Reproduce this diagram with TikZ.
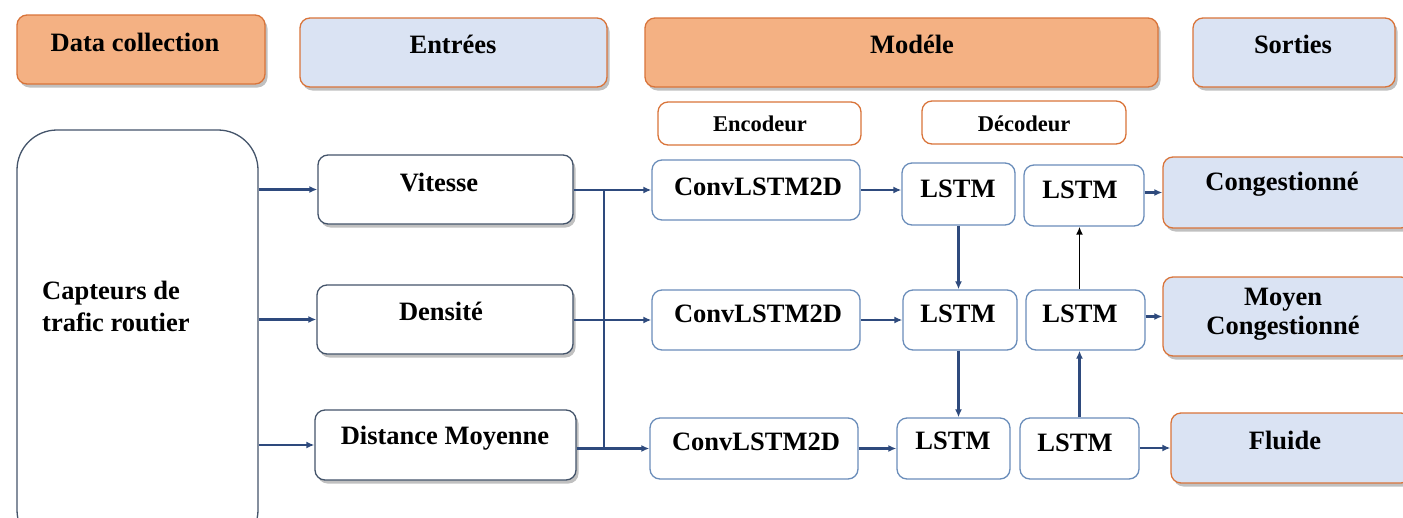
\documentclass[tikz,border=0pt]{standalone}
\usepackage{fontspec}
\setmainfont{Liberation Serif}
\usetikzlibrary{arrows.meta,shadows}
\definecolor{orfill}{HTML}{F4B183}
\definecolor{orline}{HTML}{D9743A}
\definecolor{blfill}{HTML}{DAE3F3}
\definecolor{stline}{HTML}{6A8DBA}
\definecolor{inline}{HTML}{44546A}
\definecolor{navy}{HTML}{2E4A7D}
\tikzset{
  base/.style={rectangle, rounded corners=10pt, line width=1.3pt, inner sep=0pt},
  shad/.style={drop shadow={shadow xshift=2.5pt, shadow yshift=-3.5pt, opacity=0.35, fill=black!70}},
  heador/.style={base, shad, draw=orline, fill=orfill},
  headbl/.style={base, shad, draw=orline, fill=blfill},
  subhead/.style={base, draw=orline, fill=white},
  inbox/.style={base, shad, draw=inline, fill=white},
  smallbox/.style={base, draw=stline, fill=white},
  outbox/.style={base, shad, draw=orline, fill=blfill},
  txt/.style={font=\fontsize{26.5}{29}\selectfont\bfseries, inner sep=0pt, align=center},
  stxt/.style={font=\fontsize{22.5}{24}\selectfont\bfseries, inner sep=0pt},
  arr/.style={draw=navy, line width=2.3pt, -{Latex[length=8pt,width=7pt]}},
  arrk/.style={draw=black, line width=1.8pt, -{Latex[length=8pt,width=7pt]}},
  bus/.style={draw=navy, line width=2.3pt}
}
\begin{document}
\begin{tikzpicture}[x=1pt,y=-1pt]
\useasboundingbox (0,0) rectangle (1403,517);
\clip (0,0) rectangle (1403,517);
\fill[white] (0,0) rectangle (1403,517);
% headers
\node[heador, minimum width=248pt, minimum height=69pt] (dc) at (141,49.5) {};
\node[txt] (dct) at (135,42) {Data collection};
\node[headbl, minimum width=307pt, minimum height=69pt] (en) at (453.5,52.5) {};
\node[txt] (ent) at (453,44) {Entrées};
\node[heador, minimum width=513pt, minimum height=69pt] (mo) at (901.5,52.5) {};
\node[txt] (mot) at (912,44) {Modéle};
\node[headbl, minimum width=202pt, minimum height=69pt] (so) at (1294,52.5) {};
\node[txt] (sot) at (1293,44) {Sorties};
% sub headers
\node[subhead, minimum width=203pt, minimum height=43pt] (enc) at (759.5,123.5) {};
\node[stxt] (enct) at (760,124) {Encodeur};
\node[subhead, minimum width=204pt, minimum height=43pt] (dec) at (1024,122.5) {};
\node[stxt] (dect) at (1024,124) {Décodeur};
% sensor box
\node[base, rounded corners=40pt, draw=inline, fill=white, minimum width=241pt, minimum height=420pt] (cap) at (137.5,340) {};
\node[txt, align=left, anchor=west, font=\fontsize{26.5}{32}\selectfont\bfseries] (capt) at (42,306) {Capteurs de\\trafic routier};
% inputs
\node[inbox, minimum width=255pt, minimum height=69pt] (vit) at (445.5,189.5) {};
\node[txt] (vitt) at (439,183) {Vitesse};
\node[inbox, minimum width=256pt, minimum height=69pt] (den) at (445,319.5) {};
\node[txt] (dent) at (441,311) {Densité};
\node[inbox, minimum width=261pt, minimum height=70pt] (dis) at (445.5,445) {};
\node[txt] (dist) at (445,438) {Distance Moyenne};
% encoder
\node[smallbox, minimum width=208pt, minimum height=60pt] (c1) at (756,190) {};
\node[txt] (c1t) at (758,187) {ConvLSTM2D};
\node[smallbox, minimum width=208pt, minimum height=60pt] (c2) at (756,320) {};
\node[txt] (c2t) at (758,314) {ConvLSTM2D};
\node[smallbox, minimum width=208pt, minimum height=61pt] (c3) at (754,448.5) {};
\node[txt] (c3t) at (756,442) {ConvLSTM2D};
% decoder
\node[smallbox, minimum width=113pt, minimum height=62pt] (l11) at (958.5,194) {};
\node[txt] (l11t) at (958,189) {LSTM};
\node[smallbox, minimum width=120pt, minimum height=61pt] (l12) at (1084,195.5) {};
\node[txt] (l12t) at (1080,190) {LSTM};
\node[smallbox, minimum width=114pt, minimum height=60pt] (l21) at (960,320) {};
\node[txt] (l21t) at (958,314) {LSTM};
\node[smallbox, minimum width=119pt, minimum height=60pt] (l22) at (1085.5,320) {};
\node[txt] (l22t) at (1080,314) {LSTM};
\node[smallbox, minimum width=113pt, minimum height=61pt] (l31) at (953.5,448.5) {};
\node[txt] (l31t) at (953,441) {LSTM};
\node[smallbox, minimum width=119pt, minimum height=61pt] (l32) at (1079.5,448.5) {};
\node[txt] (l32t) at (1075,443) {LSTM};
% outputs
\node[outbox, minimum width=248pt, minimum height=71pt] (o1) at (1287,192.5) {};
\node[txt] (o1t) at (1282,184) {Congestionné};
\node[outbox, minimum width=248pt, minimum height=79pt] (o2) at (1287,316.5) {};
\node[txt] (o2t) at (1283,314) {Moyen\\Congestionné};
\node[outbox, minimum width=240pt, minimum height=70pt] (o3) at (1291,448) {};
\node[txt] (o3t) at (1285,440) {Fluide};
% connectors
\coordinate (bx) at (604,0);
\draw[arr] (cap.east |- vit.west) -- (vit.west);
\draw[arr] (cap.east |- den.west) -- (den.west);
\draw[arr] (cap.east |- dis.west) -- (dis.west);
\draw[arr] (vit.east |- c1.west) -- (c1.west);
\draw[arr] (den.east |- c2.west) -- (c2.west);
\draw[arr] (dis.east |- c3.west) -- (c3.west);
\draw[bus] (bx |- c1.west) -- (bx |- c3.west);
\draw[arr] (c1.east) -- (c1.east -| l11.west);
\draw[arr] (c2.east) -- (c2.east -| l21.west);
\draw[arr] (c3.east) -- (c3.east -| l31.west);
\draw[arr] (l11.south) -- (l11.south |- l21.north);
\draw[arr] (l21.south -| l11.south) -- (l11.south |- l31.north);
\draw[arrk] (l32.north |- l22.north) -- (l32.north |- l12.south);
\draw[arr] (l32.north) -- (l32.north |- l22.south);
\draw[arr] (l12.east |- o1.west) -- (o1.west);
\draw[arr] (l22.east |- o2.west) -- (o2.west);
\draw[arr] (l32.east |- o3.west) -- (o3.west);
\end{tikzpicture}
\end{document}
